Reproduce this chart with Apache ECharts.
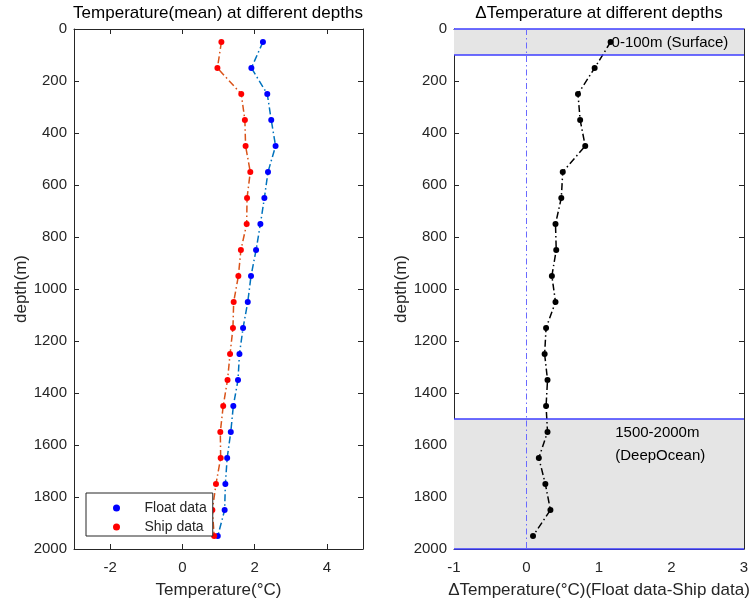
<!DOCTYPE html>
<html>
<head>
<meta charset="utf-8">
<script src="https://cdn.jsdelivr.net/npm/echarts@6/dist/echarts.min.js"></script>
<style>html,body{margin:0;padding:0;background:#fff}#c{width:756px;height:604px}</style>
</head>
<body>
<div id="c"></div>
<script>
// ---- data ----
const depths = [50,150,250,350,450,550,650,750,850,950,1050,1150,1250,1350,1450,1550,1650,1750,1850,1950];
const floatTemp = [2.23,1.91,2.35,2.46,2.58,2.37,2.27,2.16,2.04,1.90,1.81,1.68,1.58,1.54,1.41,1.34,1.24,1.19,1.17,0.98];
const shipTemp  = [1.08,0.97,1.63,1.73,1.75,1.88,1.79,1.78,1.62,1.55,1.42,1.40,1.32,1.25,1.13,1.05,1.06,0.93,0.83,0.88];
const deltaTemp = [1.16,0.94,0.71,0.74,0.81,0.50,0.48,0.40,0.41,0.35,0.40,0.27,0.25,0.29,0.27,0.29,0.17,0.26,0.33,0.09];
const leftXTicks = [-2,0,2,4];
const rightXTicks = [-1,0,1,2,3];
const depthTicks = [0,200,400,600,800,1000,1200,1400,1600,1800,2000];
const shadedBands = [[0,100],[1500,2000]];
const bandLines = [0,100,1500,2000];
const annotations = [
  {text:'0-100m (Surface)', x:1.16, depth:52},
  {text:'1500-2000m\n(DeepOcean)', x:1.21, depth:1596}
];

const pairs = (xs) => xs.map((v,i)=>[v, depths[i]]);
const AX = '#262626';
const FONT = 'Liberation Sans, Arial, sans-serif';
const dashDot = [7,3,1.5,3];
const plain = (v) => String(v);

function xAxisPair(gi, min, max, ticks, name){
  const common = {
    type:'value', gridIndex:gi, min:min, max:max, interval:1,
    axisLine:{show:true, onZero:false, lineStyle:{color:AX, width:1}},
    splitLine:{show:false},
    axisTick:{show:true, inside:true, length:5, customValues:ticks, lineStyle:{color:AX}},
  };
  return [
    Object.assign({}, common, {
      position:'bottom',
      axisLabel:{show:true, customValues:ticks, formatter:plain, color:AX, fontSize:15, fontFamily:FONT, margin:11},
      name:name, nameLocation:'middle', nameGap:33,
      nameTextStyle:{color:AX, fontSize:17, fontFamily:FONT}
    }),
    Object.assign({}, common, {position:'top', axisLabel:{show:false}})
  ];
}
function yAxisPair(gi){
  const common = {
    type:'value', gridIndex:gi, min:0, max:2000, interval:200, inverse:true,
    axisLine:{show:true, onZero:false, lineStyle:{color:AX, width:1}},
    splitLine:{show:false},
    axisTick:{show:true, inside:true, length:5, customValues:depthTicks, lineStyle:{color:AX}},
  };
  return [
    Object.assign({}, common, {
      position:'left',
      axisLabel:{show:true, customValues:depthTicks, formatter:plain, color:AX, fontSize:15, fontFamily:FONT, margin:7},
      name:'depth(m)', nameLocation:'middle', nameGap:42,
      nameTextStyle:{color:AX, fontSize:17, fontFamily:FONT}
    }),
    Object.assign({}, common, {position:'right', axisLabel:{show:false}})
  ];
}

const xL = xAxisPair(0, -3, 5, leftXTicks, 'Temperature(°C)');
const xR = xAxisPair(1, -1, 3, rightXTicks, 'ΔTemperature(°C)(Float data-Ship data)');
const yL = yAxisPair(0);
const yR = yAxisPair(1);

const option = {
  animation:false,
  backgroundColor:'#fff',
  textStyle:{fontFamily:FONT},
  title:[
    {text:'Temperature(mean) at different depths', left:218, top:5, textAlign:'center', padding:0,
     textStyle:{color:'#000', fontSize:17, fontWeight:'normal', fontFamily:FONT}},
    {text:'ΔTemperature at different depths', left:599, top:5, textAlign:'center', padding:0,
     textStyle:{color:'#000', fontSize:17, fontWeight:'normal', fontFamily:FONT}}
  ],
  grid:[
    {left:74, top:29, width:289, height:520},
    {left:454, top:29, width:290, height:520}
  ],
  xAxis:[xL[0], xL[1], xR[0], xR[1]],
  yAxis:[yL[0], yL[1], yR[0], yR[1]],
  legend:{
    left:86, top:493, orient:'vertical',
    data:[{name:'Float data', icon:'circle'},{name:'Ship data', icon:'circle'}],
    itemWidth:46, itemHeight:7, itemGap:5,
    padding:[8,6,2,27],
    borderColor:AX, borderWidth:1, backgroundColor:'#fff',
    textStyle:{color:AX, fontSize:14, fontFamily:FONT, lineHeight:14}
  },
  series:[
    {
      name:'bands', type:'line', xAxisIndex:2, yAxisIndex:2, data:[], silent:true, z:1,
      markArea:{silent:true, itemStyle:{color:'#e5e5e5', opacity:1},
        data: shadedBands.map(b=>[{yAxis:b[0]},{yAxis:b[1]}])},
      markLine:{silent:true, symbol:['none','none'], label:{show:false},
        data: bandLines.map(v=>({yAxis:v, lineStyle:{color:'#3c3cff', width:1.5, type:'solid'}}))
          .concat([{xAxis:0, lineStyle:{color:'#6a6aff', width:1, type:[6,3,1.5,3]}}])}
    },
    {
      name:'Float data', type:'line', xAxisIndex:0, yAxisIndex:0, data:pairs(floatTemp),
      symbol:'circle', symbolSize:6, z:3,
      itemStyle:{color:'#0000ff'}, lineStyle:{color:'#0072BD', width:1.5, type:dashDot}
    },
    {
      name:'Ship data', type:'line', xAxisIndex:0, yAxisIndex:0, data:pairs(shipTemp),
      symbol:'circle', symbolSize:6, z:3,
      itemStyle:{color:'#ff0000'}, lineStyle:{color:'#D95319', width:1.5, type:dashDot}
    },
    {
      name:'delta', type:'line', xAxisIndex:2, yAxisIndex:2, data:pairs(deltaTemp),
      symbol:'circle', symbolSize:6, z:3,
      itemStyle:{color:'#000'}, lineStyle:{color:'#000', width:1.5, type:dashDot},
      markPoint:{
        symbol:'circle', symbolSize:0, silent:true,
        label:{show:true, position:'right', distance:1, color:'#000', fontSize:15, fontFamily:FONT, lineHeight:23, align:'left'},
        data: annotations.map(a=>({coord:[a.x, a.depth], value:a.text,
          label:{formatter:a.text}}))
      }
    }
  ]
};
const chart = echarts.init(document.getElementById('c'), null, {renderer:'canvas'});
chart.setOption(option);
</script>
</body>
</html>
